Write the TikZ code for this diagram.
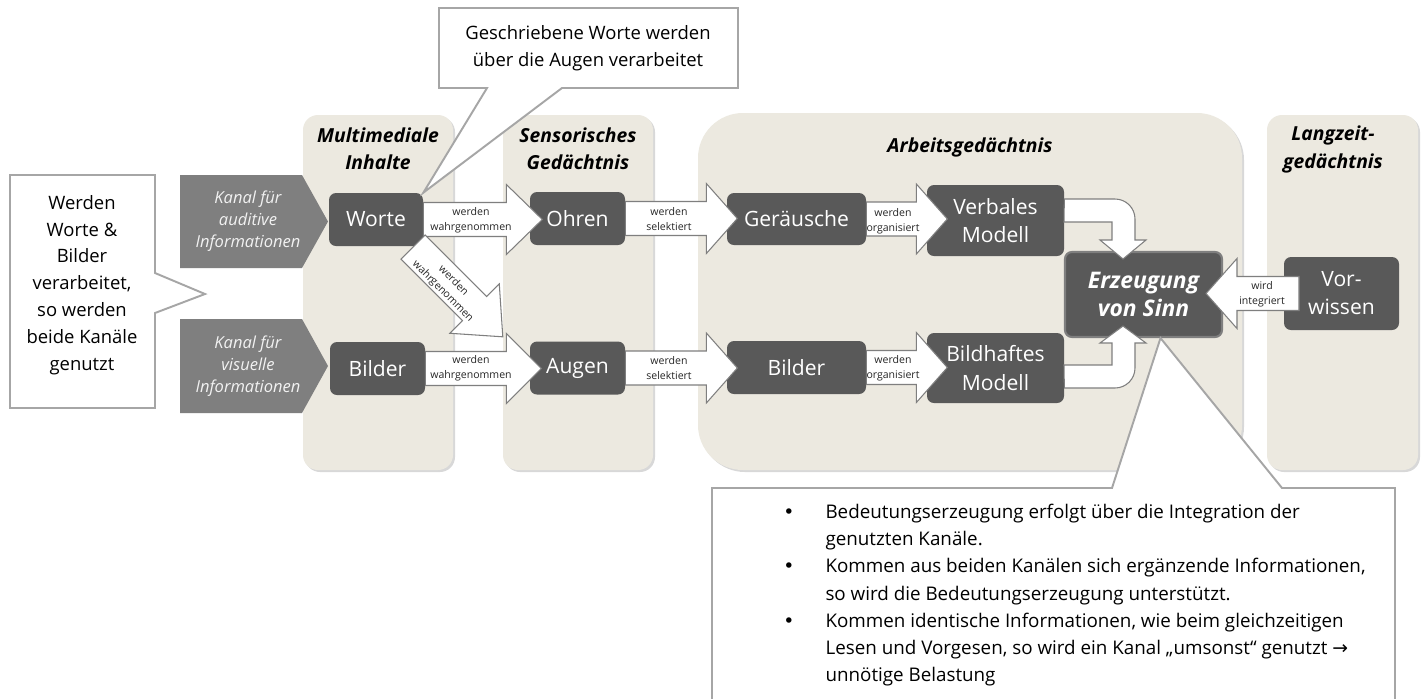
\documentclass[tikz,border=0pt]{standalone}
\usepackage{fontspec}
\setmainfont{Open Sans}
\newfontfamily\arrowfont{DejaVu Sans}
\usetikzlibrary{positioning, calc, shadows}

\definecolor{panelbg}{HTML}{ECE9E0}
\definecolor{boxdark}{HTML}{595959}
\definecolor{chgray}{HTML}{7F7F7F}
\definecolor{callgray}{HTML}{A6A6A6}

\newdimen\px
\px=0.02cm

% white block arrow: [options] {tail} {length} {head length}
\newcommand{\blockarrow}[4][]{%
  \draw[blockline,#1] #2 ++(0,-17) -- ++({#3-#4},0) -- ++(0,-18) -- ++(#4,35)
    -- ++(-#4,35) -- ++(0,-18) -- ++({#4-#3},0) -- cycle;}

\begin{document}
\begin{tikzpicture}[x=0.02cm, y=-0.02cm,
    panel/.style={fill=panelbg, rounded corners=15\px, drop shadow={shadow xshift=2\px, shadow yshift=-2\px, opacity=0.3}},
    title/.style={font=\fontsize{11}{15.5}\selectfont\bfseries\itshape, align=center},
    darkbox/.style={fill=boxdark, text=white, rounded corners=7\px, align=center, inner sep=0pt, font=\fontsize{12}{16}\selectfont},
    chantext/.style={text=white!95!black, font=\fontsize{9.4}{12.5}\selectfont\itshape, align=center},
    blockline/.style={fill=white, draw=chgray, line width=0.6pt},
    arrlabel/.style={font=\fontsize{6}{8.5}\selectfont, align=center, inner sep=0pt, text=black!85},
    callout/.style={fill=white, draw=callgray, line width=1.1pt},
    calltext/.style={font=\fontsize{10.5}{15.3}\selectfont, align=center},
]
\path[fill=white, use as bounding box] (0,0) rectangle (1424,698);

% panels
\node[panel, minimum width=150\px, minimum height=355\px] (pmulti) at (378,292.5) {};
\node[panel, minimum width=150\px, minimum height=355\px] (psens) at (578,292.5) {};
\node[panel, rounded corners=45\px, minimum width=544\px, minimum height=357\px] (parbeit) at (970,291.5) {};
\node[panel, minimum width=151\px, minimum height=355\px] (plang) at (1342.5,292.5) {};

\node[title] (tmulti) at (378,148.5) {Multimediale\\Inhalte};
\node[title] (tsens) at (578,148.5) {Sensorisches\\Gedächtnis};
\node[title] (tarbeit) at (970,147) {Arbeitsgedächtnis};
\node[title] (tlang) at (1333,149.5) {Langzeit-\\gedächtnis};

% channels
\fill[chgray] (180,175) -- (302,175) -- (328,221.5) -- (302,268) -- (180,268) -- cycle;
\node[chantext] (kaudio) at (248,221.5) {Kanal für\\auditive\\Informationen};
\fill[chgray] (180,319) -- (302,319) -- (328,366) -- (302,413) -- (180,413) -- cycle;
\node[chantext] (kvisuell) at (248,366) {Kanal für\\visuelle\\Informationen};

% boxes
\node[darkbox, minimum width=94\px, minimum height=53\px] (worte) at (376,219.5) {Worte};
\node[darkbox, minimum width=95\px, minimum height=53\px] (bilder) at (377.5,368.5) {Bilder};
\node[darkbox, minimum width=95\px, minimum height=53\px] (ohren) at (577.5,218.5) {Ohren};
\node[darkbox, minimum width=95\px, minimum height=53\px] (augen) at (577.5,368) {Augen};
\node[darkbox, minimum width=139\px, minimum height=52\px] (geraeusche) at (796.5,219) {Geräusche};
\node[darkbox, minimum width=139\px, minimum height=53\px] (bildwm) at (796.5,367.5) {Bilder};
\node[darkbox, minimum width=137\px, minimum height=71\px] (verbal) at (995.5,220.5) {Verbales\\Modell};
\node[darkbox, minimum width=137\px, minimum height=70\px] (bildhaft) at (995.5,368) {Bildhaftes\\Modell};
\node[darkbox, draw=chgray, line width=1.2pt, minimum width=157\px, minimum height=85\px,
      font=\fontsize{13}{16}\selectfont\bfseries\itshape] (sinn) at (1143.5,294.5) {Erzeugung\\von Sinn};
\node[darkbox, minimum width=115\px, minimum height=73\px] (vorwissen) at (1341.5,293.5) {Vor-\\wissen};

% block arrows
\blockarrow{(worte.east)}{119}{36}
\node[arrlabel] (lworte) at (471,220) {werden\\wahrgenommen};
\blockarrow{(bilder.east)}{116}{35}
\node[arrlabel] (lbilder) at (471,368) {werden\\wahrgenommen};
\blockarrow{(ohren.east)}{112}{31}
\node[arrlabel] (lohren) at (669,219) {werden\\selektiert};
\blockarrow{(augen.east)}{112}{31}
\node[arrlabel] (laugen) at (669,368) {werden\\selektiert};
\blockarrow{(geraeusche.east)}{81}{31}
\node[arrlabel] (lgeraeusche) at (893,221) {werden\\organisiert};
\blockarrow{(bildwm.east)}{81}{31}
\node[arrlabel] (lbildwm) at (893,368) {werden\\organisiert};

\coordinate (diagtail) at (413,247);
\blockarrow[rotate=-45]{(diagtail)}{127}{40}
\node[arrlabel, rotate=-45] (ldiag) at (448,286) {werden\\wahrgenommen};

% bent arrows into Erzeugung von Sinn
\draw[blockline] (verbal.east) ++(0,-21.5) -- (1115,199) arc[start angle=90, end angle=0, radius=20\px]
  -- (1135,240) -- (1146,240) -- (1123,259) -- (1100,240) -- (1112,240) -- (1112,222) -- (1064,222) -- cycle;
\draw[blockline] (bildhaft.east) ++(0,20) -- (1115,388) arc[start angle=-90, end angle=0, radius=20\px]
  -- (1135,343) -- (1146,343) -- (1123,326) -- (1100,343) -- (1112,343) -- (1112,365) -- (1064,365) -- cycle;

\coordinate (integtail) at (1299,293.5);
\blockarrow[rotate=180]{(integtail)}{93}{31}
\node[arrlabel] (linteg) at (1262,294) {wird\\integriert};

% callouts
\draw[callout] (10,175) -- (155,175) -- (155,273) -- (205,294) -- (155,313) -- (155,408) -- (10,408) -- cycle;
\node[calltext] (cleft) at (82,285) {Werden\\Worte \&\\Bilder\\verarbeitet,\\so werden\\beide Kanäle\\genutzt};

\draw[callout] (439,8) -- (738,8) -- (738,88) -- (562,88) -- (worte.north east) -- (487,88) -- (439,88) -- cycle;
\node[calltext] (ctop) at (588,48) {Geschriebene Worte werden\\über die Augen verarbeitet};

\draw[callout] (712,702) -- (712,488) -- (1112,488) -- ($(sinn.south)+(17,0)$) -- (1282,488) -- (1395,488) -- (1395,702);
\node[anchor=north west, inner sep=0pt, font=\fontsize{10.7}{15.5}\selectfont] (bullets) at (783,499) {%
  \begin{tabular}{@{}p{24pt}@{}l@{}}
  {\arrowfont •} & Bedeutungserzeugung erfolgt über die Integration der\\
              & genutzten Kanäle.\\
  {\arrowfont •} & Kommen aus beiden Kanälen sich ergänzende Informationen,\\
              & so wird die Bedeutungserzeugung unterstützt.\\
  {\arrowfont •} & Kommen identische Informationen, wie beim gleichzeitigen\\
              & Lesen und Vorgesen, so wird ein Kanal „umsonst“ genutzt {\arrowfont →}\\
              & unnötige Belastung
  \end{tabular}};
\end{tikzpicture}
\end{document}
